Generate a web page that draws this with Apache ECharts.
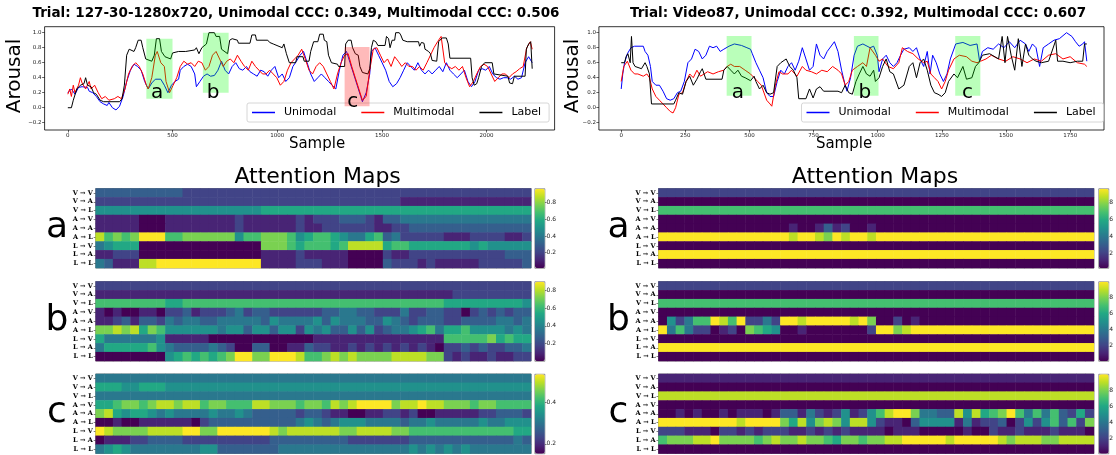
<!DOCTYPE html>
<html><head><meta charset="utf-8">
<script src="https://cdn.jsdelivr.net/npm/echarts@6/dist/echarts.min.js"></script>
<style>html,body{margin:0;padding:0;background:#fff}#c{width:1116px;height:455px}</style>
</head><body><div id="c"></div>
<script>
// ---------------- DATA ----------------
const leftTitle = 'Trial: 127-30-1280x720, Unimodal CCC: 0.349, Multimodal CCC: 0.506';
const rightTitle = 'Trial: Video87, Unimodal CCC: 0.392, Multimodal CCC: 0.607';
const seriesNames = ['Unimodal', 'Multimodal', 'Label'];

// [sample, arousal]
const leftUnimodal = [[0,0.2],[17,0.25],[34,0.18],[51,0.27],[68,0.28],[94,0.27],[102,0.22],[119,0.2],[136,0.15],[154,0.08],[171,0.05],[188,0.03],[196,0.07],[213,0],[230,-0.03],[247,0.02],[264,0.15],[281,0.35],[299,0.5],[316,0.58],[333,0.55],[350,0.5],[367,0.35],[384,0.25],[401,0.33],[418,0.38],[444,0.38],[461,0.3],[478,0.2],[495,0.3],[512,0.35],[529,0.38],[537,0.5],[554,0.55],[572,0.58],[589,0.55],[606,0.45],[614,0.28],[631,0.35],[648,0.42],[665,0.45],[682,0.42],[700,0.43],[717,0.5],[734,0.62],[751,0.5],[768,0.45],[785,0.55],[802,0.6],[819,0.52],[836,0.5],[853,0.55],[870,0.48],[887,0.45],[904,0.42],[921,0.5],[938,0.48],[955,0.42],[972,0.5],[989,0.55],[1007,0.4],[1024,0.45],[1041,0.35],[1058,0.4],[1075,0.55],[1092,0.62],[1109,0.7],[1126,0.75],[1143,0.6],[1160,0.45],[1177,0.35],[1194,0.4],[1211,0.45],[1228,0.4],[1245,0.35],[1262,0.3],[1280,0.25],[1297,0.5],[1314,0.7],[1331,0.75],[1348,0.6],[1365,0.45],[1382,0.3],[1399,0.15],[1407,0.08],[1425,0.2],[1442,0.45],[1450,0.75],[1467,0.8],[1484,0.7],[1501,0.6],[1518,0.5],[1535,0.35],[1552,0.28],[1570,0.32],[1587,0.4],[1604,0.5],[1621,0.6],[1638,0.55],[1655,0.5],[1672,0.6],[1689,0.5],[1706,0.45],[1723,0.5],[1740,0.45],[1757,0.5],[1774,0.55],[1791,0.48],[1808,0.6],[1825,0.5],[1842,0.45],[1860,0.4],[1877,0.45],[1894,0.5],[1911,0.35],[1928,0.28],[1945,0.35],[1962,0.5],[1979,0.52],[1996,0.5],[2013,0.55],[2030,0.45],[2047,0.4],[2064,0.38],[2081,0.4],[2098,0.4],[2115,0.38],[2133,0.42],[2150,0.38],[2167,0.4],[2184,0.6],[2201,0.68],[2218,0.6]];
const leftMultimodal = [[0,0.18],[9,0.25],[17,0.15],[26,0.3],[34,0.2],[51,0.3],[60,0.4],[68,0.33],[85,0.25],[102,0.35],[111,0.25],[128,0.3],[145,0.2],[162,0.12],[179,0.15],[196,0.1],[222,0.12],[239,0.15],[256,0.12],[273,0.25],[290,0.45],[307,0.55],[324,0.6],[341,0.55],[358,0.45],[375,0.3],[384,0.25],[401,0.4],[418,0.7],[427,0.75],[444,0.6],[461,0.55],[469,0.35],[486,0.2],[503,0.3],[520,0.4],[537,0.55],[554,0.62],[572,0.58],[589,0.6],[606,0.55],[623,0.62],[640,0.6],[657,0.5],[674,0.55],[691,0.7],[708,0.75],[725,0.65],[742,0.55],[759,0.62],[776,0.65],[793,0.6],[810,0.7],[827,0.62],[844,0.55],[862,0.5],[879,0.62],[896,0.55],[913,0.5],[930,0.45],[947,0.45],[964,0.5],[981,0.45],[998,0.4],[1015,0.3],[1032,0.35],[1049,0.5],[1066,0.6],[1083,0.65],[1100,0.7],[1117,0.78],[1134,0.65],[1152,0.5],[1169,0.45],[1186,0.55],[1203,0.6],[1220,0.55],[1237,0.45],[1254,0.35],[1271,0.25],[1288,0.45],[1305,0.6],[1322,0.7],[1339,0.72],[1356,0.55],[1373,0.4],[1390,0.25],[1407,0.1],[1425,0.15],[1442,0.5],[1459,0.78],[1476,0.8],[1493,0.7],[1510,0.6],[1527,0.65],[1544,0.55],[1561,0.68],[1578,0.62],[1595,0.55],[1612,0.6],[1629,0.55],[1646,0.55],[1663,0.5],[1680,0.55],[1697,0.5],[1715,0.6],[1732,0.7],[1749,0.8],[1766,0.88],[1783,0.95],[1800,0.6],[1817,0.55],[1834,0.52],[1851,0.55],[1868,0.5],[1885,0.55],[1902,0.4],[1919,0.28],[1937,0.35],[1953,0.45],[1971,0.55],[1988,0.58],[2005,0.55],[2022,0.45],[2039,0.35],[2056,0.4],[2073,0.45],[2090,0.45],[2107,0.4],[2124,0.45],[2141,0.48],[2158,0.52],[2175,0.55],[2192,0.8],[2209,0.88],[2218,0.78]];
const leftLabel = [[0,0],[17,0],[26,0.1],[43,0.25],[60,0.3],[77,0.32],[85,0.4],[94,0.3],[111,0.28],[123,0.2],[136,0.18],[154,0.1],[171,0.08],[247,0.08],[259,0.12],[270,0.3],[281,0.7],[293,0.78],[316,0.75],[324,0.8],[336,0.9],[350,0.9],[358,0.8],[372,0.65],[401,0.62],[413,0.7],[423,0.92],[438,0.92],[447,0.75],[464,0.68],[491,0.65],[500,0.73],[529,0.75],[563,0.75],[606,0.77],[614,0.8],[626,0.72],[640,0.8],[662,0.85],[674,1.0],[700,1.0],[708,0.95],[725,0.95],[734,0.78],[763,0.72],[773,0.9],[785,0.92],[810,0.9],[815,0.86],[870,0.86],[879,0.97],[896,0.97],[901,0.9],[955,0.9],[964,0.87],[981,0.85],[1024,0.8],[1032,0.85],[1044,0.72],[1058,0.6],[1088,0.6],[1095,0.68],[1123,0.68],[1129,0.62],[1152,0.62],[1160,0.75],[1174,0.88],[1194,0.88],[1203,0.98],[1220,0.98],[1225,0.9],[1237,0.88],[1245,0.7],[1259,0.6],[1288,0.58],[1293,0.55],[1322,0.55],[1327,0.85],[1339,0.9],[1353,0.9],[1360,0.8],[1373,0.72],[1387,0.7],[1395,0.55],[1407,0.47],[1433,0.45],[1442,0.52],[1450,0.8],[1459,0.9],[1471,0.88],[1481,0.83],[1515,0.83],[1522,0.95],[1532,0.92],[1539,0.8],[1549,0.9],[1561,0.9],[1566,1.0],[1583,1.0],[1590,0.97],[1600,0.9],[1621,0.88],[1675,0.88],[1680,0.82],[1689,0.87],[1701,0.86],[1706,0.78],[1723,0.75],[1732,0.72],[1740,0.63],[1762,0.62],[1771,0.88],[1788,0.93],[1808,0.93],[1817,0.85],[1825,0.66],[1924,0.66],[1931,0.4],[1941,0.3],[1953,0.32],[1962,0.4],[1976,0.55],[1991,0.6],[2027,0.6],[2035,0.45],[2102,0.42],[2110,0.33],[2124,0.32],[2133,0.42],[2184,0.42],[2190,0.78],[2201,0.85],[2211,0.88],[2218,0.52]];

const rightUnimodal = [[0,0.25],[6,0.45],[13,0.6],[24,0.72],[38,0.8],[52,0.82],[86,0.82],[93,0.75],[104,0.7],[114,0.55],[121,0.35],[135,0.3],[149,0.3],[163,0.22],[177,0.12],[191,0.1],[205,0.12],[219,0.2],[232,0.22],[246,0.35],[260,0.6],[274,0.65],[288,0.78],[302,0.75],[316,0.65],[330,0.7],[344,0.82],[358,0.8],[372,0.82],[386,0.75],[400,0.78],[420,0.82],[441,0.85],[469,0.83],[490,0.8],[504,0.78],[511,0.72],[525,0.6],[539,0.5],[553,0.4],[567,0.2],[580,0.15],[594,0.15],[608,0.35],[622,0.5],[636,0.45],[650,0.55],[664,0.6],[678,0.5],[692,0.62],[706,0.8],[720,0.65],[734,0.5],[748,0.55],[761,0.85],[775,0.7],[789,0.65],[803,0.75],[831,0.88],[845,0.75],[859,0.5],[873,0.3],[880,0.22],[894,0.4],[908,0.7],[921,0.82],[942,0.85],[970,0.8],[984,0.82],[998,0.7],[1005,0.48],[1019,0.65],[1033,0.7],[1047,0.6],[1061,0.55],[1075,0.6],[1089,0.7],[1102,0.78],[1123,0.8],[1137,0.75],[1151,0.8],[1165,0.65],[1179,0.55],[1193,0.75],[1204,0.45],[1214,0.7],[1228,0.6],[1242,0.45],[1256,0.35],[1270,0.45],[1283,0.65],[1304,0.85],[1332,0.87],[1360,0.83],[1387,0.85],[1397,0.62],[1408,0.75],[1429,0.8],[1450,0.78],[1471,0.85],[1492,0.8],[1513,0.88],[1534,0.8],[1555,0.9],[1576,0.85],[1589,0.75],[1603,0.85],[1617,0.8],[1631,0.55],[1645,0.8],[1666,0.85],[1687,0.9],[1708,0.92],[1736,1.0],[1757,0.95],[1771,0.88],[1785,0.82],[1799,0.85],[1806,0.88],[1815,0.62]];
const rightMultimodal = [[0,0.35],[10,0.55],[24,0.62],[38,0.5],[52,0.45],[65,0.45],[86,0.42],[100,0.45],[110,0.4],[121,0.25],[135,0.15],[149,0.1],[163,0.05],[177,0],[191,-0.05],[202,-0.07],[212,0],[225,0.18],[239,0.2],[253,0.35],[267,0.45],[281,0.4],[295,0.5],[309,0.42],[323,0.45],[337,0.48],[358,0.45],[379,0.48],[400,0.5],[413,0.55],[427,0.58],[441,0.55],[462,0.55],[483,0.5],[504,0.45],[518,0.4],[532,0.35],[546,0.3],[567,0.1],[580,0.05],[587,0.02],[601,0.3],[615,0.48],[629,0.45],[650,0.45],[664,0.5],[685,0.42],[706,0.55],[720,0.5],[741,0.48],[761,0.45],[782,0.5],[803,0.48],[824,0.55],[845,0.5],[859,0.45],[873,0.3],[887,0.35],[901,0.5],[921,0.55],[942,0.6],[956,0.55],[970,0.8],[991,0.7],[1005,0.62],[1019,0.65],[1040,0.55],[1061,0.52],[1082,0.6],[1096,0.8],[1116,0.75],[1137,0.72],[1158,0.65],[1179,0.6],[1193,0.62],[1207,0.45],[1221,0.4],[1235,0.35],[1249,0.25],[1263,0.35],[1276,0.5],[1297,0.65],[1318,0.7],[1346,0.68],[1367,0.62],[1387,0.6],[1401,0.62],[1422,0.65],[1443,0.7],[1471,0.65],[1499,0.62],[1527,0.68],[1555,0.65],[1582,0.6],[1610,0.65],[1638,0.62],[1666,0.7],[1694,0.72],[1722,0.65],[1750,0.68],[1778,0.6],[1806,0.58],[1815,0.55]];
const rightLabel = [[0,0.6],[13,0.6],[19,0.68],[26,0.72],[35,0.6],[40,0.95],[46,0.6],[54,0.55],[79,0.52],[93,0.6],[100,0.55],[110,0.45],[118,0.05],[205,0.05],[212,0.1],[225,0.2],[239,0.18],[253,0.35],[267,0.42],[281,0.3],[295,0.38],[309,0.48],[316,0.52],[330,0.38],[393,0.38],[400,0.5],[413,0.55],[427,0.5],[441,0.45],[455,0.5],[469,0.42],[483,0.4],[504,0.36],[518,0.42],[525,0.35],[539,0.25],[553,0.3],[567,0.2],[580,0.18],[594,0.2],[608,0.55],[622,0.6],[643,0.65],[657,0.55],[671,0.5],[685,0.4],[692,0.12],[720,0.12],[734,0.25],[748,0.13],[761,0.25],[775,0.28],[789,0.22],[845,0.22],[859,0.2],[873,0.3],[887,0.2],[901,0.18],[915,0.35],[928,0.45],[942,0.55],[956,0.45],[970,0.42],[984,0.5],[991,0.35],[1005,0.4],[1019,0.55],[1033,0.65],[1047,0.48],[1061,0.45],[1082,0.25],[1102,0.3],[1123,0.55],[1137,0.6],[1151,0.4],[1165,0.6],[1179,0.65],[1193,0.5],[1207,0.3],[1221,0.2],[1235,0.18],[1249,0.15],[1263,0.2],[1276,0.35],[1297,0.45],[1311,0.4],[1332,0.55],[1346,0.38],[1367,0.4],[1381,0.55],[1394,0.6],[1408,0.7],[1436,0.72],[1471,0.65],[1485,0.95],[1496,0.6],[1506,0.95],[1520,0.7],[1534,0.5],[1548,0.92],[1562,0.55],[1576,0.85],[1589,0.7],[1603,0.65],[1617,0.62],[1638,0.6],[1666,0.62],[1694,0.9],[1701,0.62],[1722,0.62],[1750,0.6],[1778,0.62],[1799,0.62],[1806,0.85],[1815,0.85]];

// highlighted windows: [startSample, endSample, low, high, letter, letterSample, letterValue, kind]
const leftWindows = [
  [375, 500, 0.12, 0.92, 'a', 427, 0.11, 'green'],
  [645, 768, 0.20, 1.00, 'b', 694, 0.11, 'green'],
  [1322, 1441, 0.02, 0.81, 'c', 1361, -0.01, 'red']
];
const rightWindows = [
  [411, 508, 0.16, 0.955, 'a', 455, 0.11, 'green'],
  [907, 1003, 0.16, 0.955, 'b', 950, 0.11, 'green'],
  [1302, 1400, 0.16, 0.955, 'c', 1350, 0.11, 'green']
];

const yTicks = [-0.2, 0, 0.2, 0.4, 0.6, 0.8, 1.0];
const leftXTicks = [0, 500, 1000, 1500, 2000];
const rightXTicks = [0, 250, 500, 750, 1000, 1250, 1500, 1750];

const rowLabels = ['V \u2192 V','V \u2192 A','V \u2192 L','A \u2192 V','A \u2192 A','A \u2192 L','L \u2192 V','L \u2192 A','L \u2192 L'];
const panelLetters = ['a', 'b', 'c'];

// attention maps: one string per row, one character per column (50 columns),
// character = position on the colour scale (0..9, X = top)
const heatLeftA = [
 '33333 33333 22222 22222 22222 22222 22222 22222 22222 22222',
 '22222 22222 22222 22222 22222 22222 22222 11111 11111 11111',
 '55555 55555 55555 55556 66666 66666 66666 66666 66666 66666',
 '11111 00011 11111 12111 11121 22233 32133 44444 44444 44444',
 '11111 00011 11111 12111 11121 12222 22112 23333 33333 33333',
 '97878 XXX77 88888 85778 88756 77654 46734 22222 11122 22112',
 '45666 00000 00000 00008 88767 77679 99967 76666 66656 55555',
 '11222 00000 00000 00001 11121 11110 00021 12222 22222 22333',
 '43111 99XXX XXXXX XXXX1 11122 21110 00032 22121 11112 22223'
];
const heatLeftB = [
 '22222 22222 22222 22222 22222 22222 22222 22222 22222 22222',
 '11111 11111 11111 11111 11111 11111 11111 11111 12222 22222',
 '77777 77766 77777 77777 77777 77777 77777 77777 66666 66665',
 '10100 11022 31222 34233 22222 23344 33222 42233 22023 23233',
 '11231 33243 44334 44443 54444 53544 43354 32333 22333 34434',
 '88989 68755 55554 55355 35525 45335 35234 45674 66755 55454',
 '64444 44511 11100 00000 00000 11111 11111 11111 77777 86766',
 '46666 67543 33343 20033 00113 22112 12121 21210 22323 22334',
 '00000 00056 76767 8XX88 XXX97 78989 88889 99988 21211 21122'
];
const heatLeftC = [
 '44444 44444 44444 44444 44444 44444 44444 44444 44444 44444',
 '66655 66655 55555 55555 55555 55555 55555 55555 55555 55555',
 '44444 44444 44444 44444 44444 44444 44444 44444 44444 44444',
 '66788 78998 99788 77799 88878 87989 XXXX8 99X99 88878 87777',
 '89656 65454 44454 45433 33323 32110 01122 12001 11112 23332',
 '00100 11111 10233 33333 33345 43455 54444 34454 44445 44555',
 'X9888 89999 XX88X XXXXX 98999 99988 99998 87777 77777 77766',
 '01112 23333 22222 22222 33333 33332 22222 23333 33333 33343',
 '45654 44444 44553 33333 34444 44444 44444 45454 54544 44444'
];
const heatRightA = [
 '22222 22222 22222 22222 22222 22222 22222 22222 22222 22222',
 '00000 00000 00000 00000 00000 00000 00000 00000 00000 00000',
 '77777 77777 77777 77777 77777 77777 77777 77777 77777 77777',
 '00000 00000 00000 00000 00000 00000 00000 00000 00000 00000',
 '00000 00000 00000 10013 12001 00000 00000 00000 00000 00000',
 'XXXXX XXXXX XXXXX 9XX98 X9XX9 XXXXX XXXXX XXXXX XXXXX XXXXX',
 '00000 00000 00000 00000 00000 00000 00000 00000 00000 00000',
 'XXXXX XXXXX XXXXX XXXXX XXXXX XXXXX XXXXX XXXXX XXXXX XXXXX',
 '00000 00000 00000 00000 00000 00000 00000 00000 00000 00000'
];
const heatRightB = [
 '22222 22222 22222 22222 22222 22222 22222 22222 22222 22222',
 '00000 00000 00000 00000 00000 00000 00000 00000 00000 00000',
 '77777 77777 77777 77777 77777 77777 77777 77777 77777 77777',
 '00000 00000 00000 00000 00000 00000 00000 00000 00000 00000',
 '05247 7X97X 2242X X9XXX XX9X8 00201 00000 00000 00000 00000',
 'X4742 20120 87650 01000 00002 XX89X XXXXX XXXXX XXXXX XXXXX',
 '00000 00000 00000 00000 00000 00000 00000 00000 00000 00000',
 'XXXXX XXXXX XXXXX XXXXX XXXXX XXXXX XXXXX XXXXX XXXXX XXXXX',
 '00000 00000 00000 00000 00000 00000 00000 00000 00000 00000'
];
const heatRightC = [
 '11111 11111 11111 11111 11111 11111 11111 11111 11111 11111',
 '00000 00000 00000 00000 00000 00000 00000 00000 00000 00000',
 '99999 99999 99999 99999 99999 99999 99999 99999 99999 99999',
 '00000 00000 00000 00000 00000 00000 00000 00000 00000 00000',
 '00101 00101 11013 31421 25125 79XX8 44339 59678 X7474 73262',
 'XXXXX XXXX9 XXXX8 69589 85995 21103 55551 41223 02525 73728',
 '22211 10221 21222 11212 12111 10111 00000 10021 12111 21110',
 '78889 9X888 87898 89887 68878 899XX XXX9X XXXX9 89998 89999',
 '00000 00000 00000 00000 00000 00000 00000 00000 00000 00000'
];
// colour-bar ranges and ticks
const rangeLeftA = [0.016, 0.97],  ticksLeftA = [0.2, 0.4, 0.6, 0.8];
const rangeLeftB = [0.0, 0.905],   ticksLeftB = [0.2, 0.4, 0.6, 0.8];
const rangeLeftC = [0.154, 0.536], ticksLeftC = [0.2, 0.4];
const rangeRightA = [0.03, 0.97],  ticksRightA = [0.2, 0.4, 0.6, 0.8];
const rangeRightB = [0.0, 1.0],    ticksRightB = [0.2, 0.4, 0.6, 0.8];
const rangeRightC = [0.01, 1.0],   ticksRightC = [0.2, 0.4, 0.6, 0.8];

// ---------------- STYLE / LAYOUT ----------------
const VIRIDIS = ['#440154','#482475','#414487','#355f8d','#2a788e','#21918c','#22a884','#44bf70','#7ad151','#bddf26','#fde725'];
const LEVEL = {'0':0,'1':0.1,'2':0.2,'3':0.3,'4':0.4,'5':0.5,'6':0.6,'7':0.7,'8':0.8,'9':0.9,'X':1};
const COLORS = {Unimodal:'#0000ff', Multimodal:'#ff0000', Label:'#000000'};
const FONT = 'DejaVu Sans';

const LINE_TOP = 26.7, LINE_H = 103.3;
const lineGrids = [
  {left: 44.6, width: 510, xmin: -111, xmax: 2325},
  {left: 598.9, width: 505.1, xmin: -87, xmax: 1882}
];
const HM_X = [95.7, 658.5], HM_W = 435.4, HM_TOPS = [188.5, 281.5, 374], HM_H = 79.5;
const CB_X = [534.6, 1098.5], CB_W = 10;

function decode(rows, lo, hi) {
  const out = [];
  rows.forEach((s, r) => {
    s.replace(/\s/g, '').split('').forEach((ch, c) => {
      out.push([c, r, +(lo + LEVEL[ch] * (hi - lo)).toFixed(4)]);
    });
  });
  return out;
}

const grid = [], xAxis = [], yAxis = [], series = [], visualMap = [], graphic = [];

// ---- line charts ----
const lineSets = [
  {vals: [leftUnimodal, leftMultimodal, leftLabel], ticks: leftXTicks, win: leftWindows},
  {vals: [rightUnimodal, rightMultimodal, rightLabel], ticks: rightXTicks, win: rightWindows}
];
lineSets.forEach((set, g) => {
  const lg = lineGrids[g];
  grid.push({left: lg.left, top: LINE_TOP, width: lg.width, height: LINE_H, show: true,
    borderColor: '#000', borderWidth: 0.8, backgroundColor: 'transparent'});
  xAxis.push({gridIndex: g, type: 'value', min: lg.xmin, max: lg.xmax,
    axisLine: {show: false, onZero: false}, splitLine: {show: false},
    axisTick: {show: true, length: 2.5, customValues: set.ticks, lineStyle: {color: '#000', width: 0.6}},
    axisLabel: {customValues: set.ticks, fontSize: 5.5, color: '#222', fontFamily: FONT, margin: 3,
      formatter: v => String(v)}});
  yAxis.push({gridIndex: g, type: 'value', min: -0.297, max: 1.08,
    axisLine: {show: false, onZero: false}, splitLine: {show: false},
    axisTick: {show: true, length: 2.5, customValues: yTicks, lineStyle: {color: '#000', width: 0.6}},
    axisLabel: {customValues: yTicks, fontSize: 5.5, color: '#222', fontFamily: FONT, margin: 3,
      formatter: v => (v < 0 ? '\u2212' : '') + Math.abs(v).toFixed(1)}});
  seriesNames.forEach((name, k) => {
    const s = {
      type: 'line', name: name, xAxisIndex: g, yAxisIndex: g,
      data: set.vals[k],
      showSymbol: false, symbol: 'none', color: COLORS[name],
      lineStyle: {width: 1, color: COLORS[name]}, z: 2 + k, animation: false, silent: true
    };
    if (k === 2) {
      s.markArea = {silent: true, z: 10, label: {show: false},
        data: set.win.map(w => [
          {coord: [w[0], w[2]], itemStyle: {color: w[7] === 'red' ? 'rgba(255,0,0,0.27)' : 'rgba(0,255,0,0.27)'}},
          {coord: [w[1], w[3]]}
        ])};
      s.markPoint = {silent: true, z: 11, symbol: 'circle', symbolSize: 0,
        label: {show: true, position: 'top', distance: 0, offset: [0, 3], formatter: '{b}',
          fontSize: 20, color: '#000', fontFamily: FONT},
        data: set.win.map(w => ({name: w[4], coord: [w[5], w[6]]}))};
    }
    series.push(s);
  });
});

// ---- heatmaps ----
const panels = [
  {rows: heatLeftA, range: rangeLeftA, ticks: ticksLeftA, side: 0, r: 0},
  {rows: heatLeftB, range: rangeLeftB, ticks: ticksLeftB, side: 0, r: 1},
  {rows: heatLeftC, range: rangeLeftC, ticks: ticksLeftC, side: 0, r: 2},
  {rows: heatRightA, range: rangeRightA, ticks: ticksRightA, side: 1, r: 0},
  {rows: heatRightB, range: rangeRightB, ticks: ticksRightB, side: 1, r: 1},
  {rows: heatRightC, range: rangeRightC, ticks: ticksRightC, side: 1, r: 2}
];
const nCols = heatLeftA[0].replace(/\s/g, '').length;
const colCats = Array.from({length: nCols}, (_, i) => String(i));
panels.forEach((p) => {
  const gi = grid.length;
  const top = HM_TOPS[p.r];
  grid.push({left: HM_X[p.side], top: top, width: HM_W, height: HM_H, show: true,
    borderColor: '#333', borderWidth: 0.6, backgroundColor: 'transparent'});
  xAxis.push({gridIndex: gi, type: 'category', data: colCats, show: false});
  yAxis.push({gridIndex: gi, type: 'category', data: rowLabels, inverse: true,
    axisLine: {show: false, onZero: false}, splitLine: {show: false},
    axisTick: {show: true, length: 2, interval: 0, alignWithLabel: true, lineStyle: {color: '#000', width: 0.5}},
    axisLabel: {interval: 0, fontSize: 6.5, fontFamily: 'DejaVu Serif', fontWeight: 'bold', color: '#000', margin: 3}});
  const si = series.length;
  series.push({type: 'heatmap', xAxisIndex: gi, yAxisIndex: gi,
    data: decode(p.rows, p.range[0], p.range[1]), silent: true, animation: false,
    itemStyle: {borderWidth: 0}, emphasis: {disabled: true}});
  visualMap.push({type: 'continuous', seriesIndex: si, dimension: 2, min: p.range[0], max: p.range[1],
    inRange: {color: VIRIDIS}, orient: 'vertical', left: CB_X[p.side], top: top,
    itemWidth: CB_W, itemHeight: HM_H, calculable: false, hoverLink: false, padding: 0,
    borderColor: '#333', borderWidth: 0.5, showLabel: false});
  const cg = grid.length;
  grid.push({left: CB_X[p.side], top: top, width: CB_W, height: HM_H, show: false});
  xAxis.push({gridIndex: cg, type: 'value', show: false, min: 0, max: 1});
  yAxis.push({gridIndex: cg, type: 'value', position: 'right', min: p.range[0], max: p.range[1],
    axisLine: {show: false, onZero: false}, splitLine: {show: false},
    axisTick: {show: true, length: 2, customValues: p.ticks, lineStyle: {color: '#000', width: 0.5}},
    axisLabel: {customValues: p.ticks, fontSize: 6, color: '#222', fontFamily: FONT, margin: 2,
      formatter: v => v.toFixed(1)}});
});

// ---- texts ----
function txt(text, x, y, size, opts) {
  graphic.push(Object.assign({type: 'text', x: x, y: y, silent: true, z: 100,
    style: Object.assign({text: text, fontSize: size, fontFamily: FONT, fill: '#000',
      align: 'center', verticalAlign: 'middle'}, (opts && opts.style) || {})},
    (opts && opts.el) || {}));
}
txt(leftTitle, 296, 13.5, 13.5, {style: {fontWeight: 'bold'}});
txt(rightTitle, 858, 13.5, 13.5, {style: {fontWeight: 'bold'}});
txt('Arousal', 15, 76, 20, {el: {rotation: Math.PI / 2}});
txt('Arousal', 573, 76, 20, {el: {rotation: Math.PI / 2}});
txt('Sample', 317, 144.5, 15);
txt('Sample', 844, 144.5, 15);
txt('Attention Maps', 317.6, 177, 22);
txt('Attention Maps', 875, 177, 22);
[57, 618.5].forEach(x => {
  panelLetters.forEach((l, r) => txt(l, x, HM_TOPS[r] + HM_H / 2 - 1, 36));
});

const legendBase = {data: seriesNames, icon: 'rect', itemWidth: 23, itemHeight: 1.5, itemGap: 25,
  top: 103, padding: [4, 8, 4, 5], backgroundColor: 'rgba(255,255,255,0.85)',
  borderColor: '#cccccc', borderWidth: 0.8, borderRadius: 2, selectedMode: false,
  textStyle: {fontSize: 11, fontFamily: FONT, color: '#000', padding: [0, 0, 0, 4]}};
const legend = [Object.assign({left: 247}, legendBase), Object.assign({left: 801.5}, legendBase)];

const chart = echarts.init(document.getElementById('c'), null, {renderer: 'canvas'});
chart.setOption({animation: false, backgroundColor: '#fff', grid, xAxis, yAxis, series, visualMap, legend, graphic});
</script></body></html>
